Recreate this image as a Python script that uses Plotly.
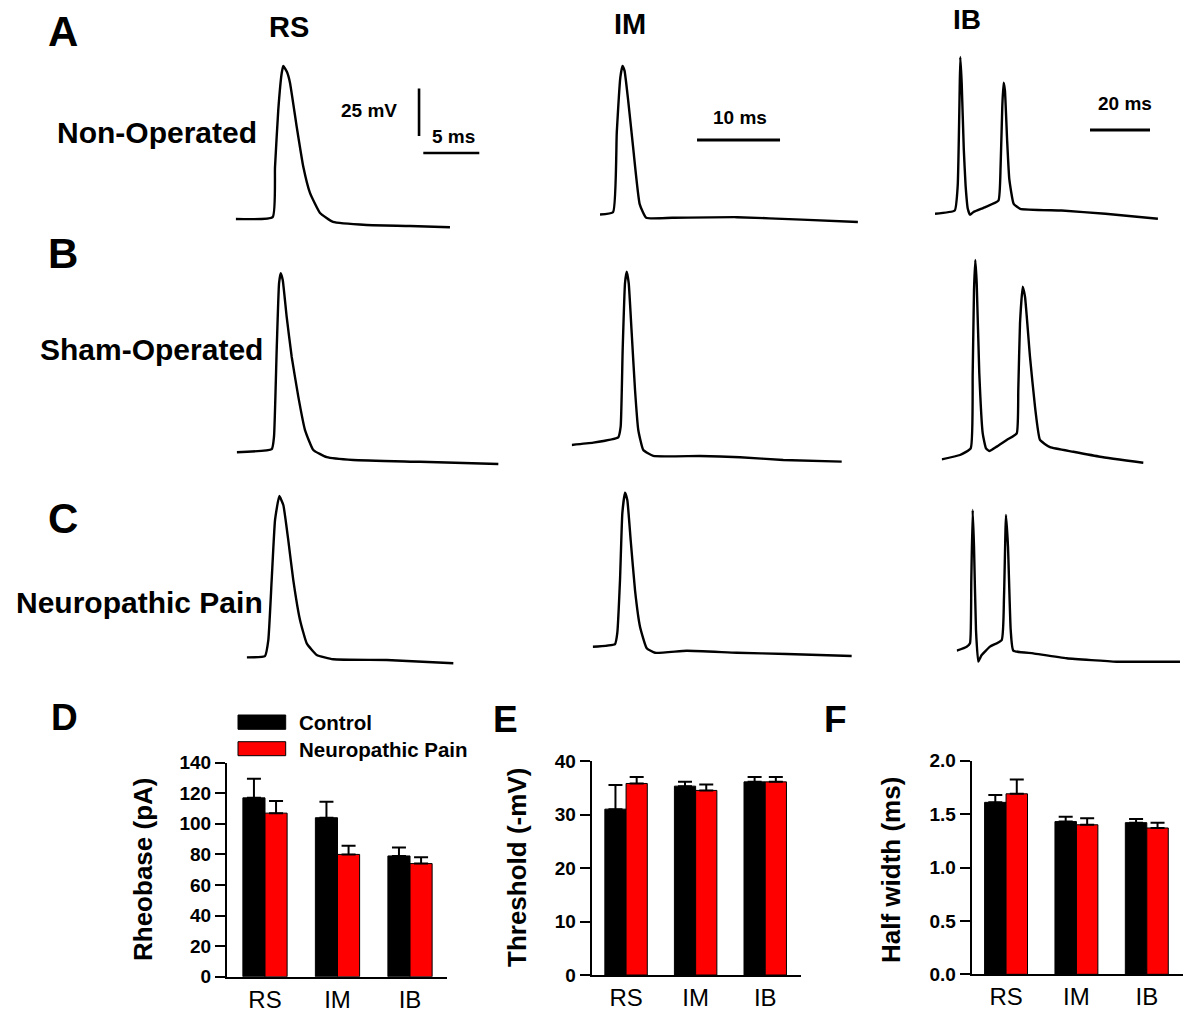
import plotly.graph_objects as go

W, H = 1200, 1014
FONT = "Arial, 'Liberation Sans', Helvetica, sans-serif"
PAGE_OFFSET = 8  # default page margin around the plot div

# ---------------- Action potential traces (time in ms, membrane potential in mV) ----------------
a_rs_t = [0, 3.30, 3.51, 3.80, 4.11, 4.25, 4.58, 4.85, 5.45, 6.04, 6.63, 7.53, 8.69, 11.70, 15.56, 19.13]
a_rs_v = [-60.5, -59.5, -33.2, -3.2, 16.3, 20.0, 16.8, 11.1, -12.1, -33.2, -46.8, -57.4, -62.1, -63.7, -64.2, -64.9]

a_im_t = [0, 1.57, 2.02, 2.45, 2.71, 2.96, 3.39, 4.01, 4.78, 5.57, 8.69, 16.51, 24.30, 31.07]
a_im_v = [-60.8, -59.6, -17.7, 11.4, 17.4, 14.8, -0.6, -26.3, -55.3, -62.5, -62.5, -62.2, -63.5, -64.7]

a_ib_t = [0, 6.57, 7.57, 8.17, 8.43, 8.9, 9.6, 10.2, 10.93, 11.67, 12.83, 16.77, 21.13, 21.87, 22.43,
          22.87, 23.3, 24.03, 24.77, 26.23, 28.4, 42.23, 56.8, 74.3]
a_ib_v = [-60.4, -58.7, -45.6, -0.5, 22.1, 8.2, -26.5, -45.6, -57.8, -60.9, -59.5, -56.9, -53.5, -35.2, -3.9,
          8.6, 4.7, -21.3, -42.2, -55.2, -57.8, -58.7, -60.4, -63.0]

b_rs_t = [0, 3.13, 3.33, 3.57, 3.78, 3.93, 4.11, 4.46, 4.91, 5.5, 6.1, 6.84, 8.04, 10.41, 16.37, 23.36]
b_rs_v = [-61.2, -59.5, -53.0, -7.4, 27.7, 33.0, 29.5, 10.2, -10.9, -31.9, -49.5, -60.0, -63.8, -65.3, -66.2, -67.4]

b_im_t = [0, 2.6, 5.61, 5.9, 6.14, 6.42, 6.63, 6.87, 7.23, 7.63, 8.02, 8.63, 9.83, 15.46, 20.28, 25.49, 32.53]
b_im_v = [-62.6, -61.4, -58.6, -53.0, -12.6, 22.5, 28.6, 22.5, -3.8, -33.7, -54.7, -65.3, -68.4, -68.4, -69.1, -70.5, -71.4]

b_ib_t = [0, 6.1, 9.67, 10.33, 10.77, 11.2, 11.67, 12.53, 13.67, 14.77, 15.87, 18.33, 21.67, 25.0, 25.53,
          26.1, 27.0, 27.77, 29.43, 31.1, 32.77, 36.1, 43.87, 52.77, 67.2]
b_ib_v = [-62.3, -60.0, -56.5, -17.0, 26.8, 42.6, 30.4, -17.0, -48.6, -56.5, -57.9, -55.6, -52.1, -48.6, -25.8,
          9.3, 28.6, 23.3, -8.3, -34.6, -52.1, -55.9, -58.3, -60.9, -64.1]

c_rs_t = [0, 1.63, 1.93, 2.23, 2.53, 2.91, 3.27, 3.71, 4.16, 4.76, 5.36, 6.25, 7.73, 12.5, 18.45]
c_rs_v = [-60.2, -59.5, -51.1, -19.5, 12.1, 24.7, 20.0, 1.6, -19.5, -40.5, -52.8, -58.9, -61.2, -61.6, -63.3]

c_im_t = [0, 2.69, 2.96, 3.29, 3.57, 3.89, 4.17, 4.58, 5.1, 5.7, 6.51, 7.51, 11.33, 17.35, 23.37, 31.2]
c_im_v = [-60.9, -59.5, -53.8, -25.8, 9.3, 20.2, 16.3, -5.0, -31.3, -50.4, -61.7, -64.1, -63.0, -64.1, -64.7, -65.8]

c_ib_t = [0, 3.33, 4.43, 4.87, 5.33, 5.77, 6.43, 7.2, 8.33, 11.1, 15.0, 15.77, 16.43, 17.1, 18.0, 18.87,
          25.53, 36.67, 53.33, 74.43]
c_ib_v = [-61.4, -59.3, -57.5, -24.2, 12.6, -6.7, -50.5, -67.2, -63.7, -59.3, -55.8, -33.0, 10.0, -6.7, -50.5, -61.4,
          -62.8, -65.4, -67.2, -67.2]

# scale bars
bar_mv = 25
bar_ms_rs = 5
bar_ms_im = 10
bar_ms_ib = 20

# ---------------- Summary data ----------------
categories = ["RS", "IM", "IB"]
series_names = ["Control", "Neuropathic Pain"]

rheo_ctrl = [117, 104, 79]
rheo_ctrl_err = [12.5, 10.5, 5.5]
rheo_np = [107, 80, 74]
rheo_np_err = [8, 5.7, 4.2]

thr_ctrl = [31.0, 35.3, 36.1]
thr_ctrl_err = [4.5, 0.8, 0.9]
thr_np = [35.8, 34.5, 36.1]
thr_np_err = [1.2, 1.1, 0.9]

hw_ctrl = [1.61, 1.43, 1.42]
hw_ctrl_err = [0.07, 0.045, 0.035]
hw_np = [1.69, 1.40, 1.37]
hw_np_err = [0.135, 0.06, 0.05]

y_ticks_rheo = [0, 20, 40, 60, 80, 100, 120, 140]
y_ticks_thr = [0, 10, 20, 30, 40]
y_ticks_hw = [0.0, 0.5, 1.0, 1.5, 2.0]
y_ticktext_hw = ["0.0", "0.5", "1.0", "1.5", "2.0"]

# ---------------- helpers ----------------
def px_x(x):
    return (x - PAGE_OFFSET) / W

def px_y(y):
    return 1 - (y - PAGE_OFFSET) / H

def akey(prefix, k):
    return prefix + ("" if k == 1 else str(k))

fig = go.Figure()
layout = dict(
    template="none",
    width=W, height=H, margin=dict(l=0, r=0, t=0, b=0, pad=0, autoexpand=False),
    paper_bgcolor="white", plot_bgcolor="rgba(0,0,0,0)",
    showlegend=False, bargap=0.39, bargroupgap=0,
    font=dict(family=FONT, color="black"),
)

PX_PER_MV = 1.9
# (t, v, left_px, baseline_py, px_per_ms, width_px)
trace_specs = [
    (a_rs_t, a_rs_v, 235.7, 218, 11.2, 250),
    (a_im_t, a_im_v, 600, 213, 8.3, 270),
    (a_ib_t, a_ib_v, 935, 213, 3.0, 235),
    (b_rs_t, b_rs_v, 236.7, 450, 11.2, 270),
    (b_im_t, b_im_v, 571.7, 440, 8.3, 280),
    (b_ib_t, b_ib_v, 941.7, 455, 3.0, 235),
    (c_rs_t, c_rs_v, 246.7, 657, 11.2, 250),
    (c_im_t, c_im_v, 592.7, 645, 8.3, 270),
    (c_ib_t, c_ib_v, 956.7, 648, 3.0, 235),
]

for i, (t, v, left, base, s, wpx) in enumerate(trace_specs):
    k = i + 1
    xa, ya = akey("x", k), akey("y", k)
    fig.add_trace(go.Scatter(x=t, y=v, mode="lines", xaxis=xa, yaxis=ya,
                             line=dict(color="black", width=2.4, shape="spline", smoothing=0.4),
                             hoverinfo="skip"))
    top, bot = max(base - 205, PAGE_OFFSET + 1), base + 35
    layout[akey("xaxis", k)] = dict(domain=[px_x(left), min(1.0, px_x(left + wpx))], range=[0, wpx / s],
                                   visible=False, anchor=ya, fixedrange=True, automargin=False)
    layout[akey("yaxis", k)] = dict(domain=[px_y(bot), px_y(top)],
                                   range=[-60 - (bot - base) / PX_PER_MV, -60 + (base - top) / PX_PER_MV],
                                   visible=False, anchor=xa, fixedrange=True, automargin=False)

# scale bars drawn in data units of the first-row axes
fig.add_trace(go.Scatter(x=[16.37, 16.37], y=[-16.8, -16.8 + bar_mv], mode="lines", xaxis="x", yaxis="y",
                         line=dict(color="black", width=2.6), hoverinfo="skip"))
fig.add_trace(go.Scatter(x=[16.75, 16.75 + bar_ms_rs], y=[-25.8, -25.8], mode="lines", xaxis="x", yaxis="y",
                         line=dict(color="black", width=2.6), hoverinfo="skip"))
fig.add_trace(go.Scatter(x=[11.69, 11.69 + bar_ms_im], y=[-21.6, -21.6], mode="lines", xaxis="x2", yaxis="y2",
                         line=dict(color="black", width=3), hoverinfo="skip"))
fig.add_trace(go.Scatter(x=[51.67, 51.67 + bar_ms_ib], y=[-16.3, -16.3], mode="lines", xaxis="x3", yaxis="y3",
                         line=dict(color="black", width=3), hoverinfo="skip"))

# ---------------- bar panels ----------------
COL_CTRL = "#000000"
COL_NP = "#ff0000"
bar_panels = [
    # ctrl, ctrl_err, np, np_err, x-left px, x-right px, y-top px, y-bottom px, xrange, yrange, ticks
    (rheo_ctrl, rheo_ctrl_err, rheo_np, rheo_np_err, 227, 447, 762.7, 976.7, [-0.524, 2.51], [0, 140],
     y_ticks_rheo, [str(v) for v in y_ticks_rheo]),
    (thr_ctrl, thr_ctrl_err, thr_np, thr_np_err, 591.7, 800.7, 761, 975, [-0.494, 2.51], [0, 40],
     y_ticks_thr, [str(v) for v in y_ticks_thr]),
    (hw_ctrl, hw_ctrl_err, hw_np, hw_np_err, 971.7, 1182.7, 760.7, 974.3, [-0.488, 2.51], [0, 2.0],
     y_ticks_hw, y_ticktext_hw),
]

for j, (c, ce, n, ne, xl, xr, yt, yb, xr_, yr_, tv, tt) in enumerate(bar_panels):
    k = 10 + j
    xa, ya = akey("x", k), akey("y", k)
    for vals, errs, col, name in [(c, ce, COL_CTRL, series_names[0]), (n, ne, COL_NP, series_names[1])]:
        fig.add_trace(go.Bar(x=categories, y=vals, name=name, xaxis=xa, yaxis=ya,
                             marker=dict(color=col, line=dict(color="#000000", width=1)),
                             error_y=dict(type="data", symmetric=False, array=errs, arrayminus=[0, 0, 0],
                                          color="black", thickness=2, width=7),
                             hoverinfo="skip"))
    layout[akey("xaxis", k)] = dict(domain=[px_x(xl), px_x(xr)], range=xr_, type="category",
                                   anchor=ya, showline=True, linecolor="black", linewidth=2,
                                   ticks="", showgrid=False, zeroline=False, automargin=False,
                                   tickfont=dict(family=FONT, size=24, color="black"), fixedrange=True)
    layout[akey("yaxis", k)] = dict(domain=[px_y(yb), px_y(yt)], range=yr_, anchor=xa,
                                   showline=True, linecolor="black", linewidth=2,
                                   ticks="outside", ticklen=10, tickwidth=2, tickcolor="black",
                                   tickvals=tv, ticktext=["<b>%s</b>" % s for s in tt],
                                   showgrid=False, zeroline=False, automargin=False,
                                   tickfont=dict(family=FONT, size=19, color="black"), fixedrange=True)

# ---------------- text ----------------
ann = []
def text(x, y, s, size, bold=True, angle=0):
    ann.append(dict(x=px_x(x), y=px_y(y), xref="paper", yref="paper", text=("<b>%s</b>" % s) if bold else s,
                    showarrow=False, xanchor="center", yanchor="middle", textangle=angle,
                    font=dict(family=FONT, size=size, color="black")))

for letter, x, y in [("A", 63, 31), ("B", 63, 253), ("C", 63, 518)]:
    text(x, y, letter, 42)
for letter, x, y in [("D", 64, 717), ("E", 505, 719), ("F", 836, 719)]:
    text(x, y, letter, 37)

text(289, 27, "RS", 29)
text(630, 24, "IM", 29)
text(967, 20, "IB", 28)
text(157, 133, "Non-Operated", 30)
text(151, 349, "Sham-Operated", 30)
text(139, 602, "Neuropathic Pain", 30)
text(369, 111, "25 mV", 19)
text(453, 137, "5 ms", 19)
text(740, 117, "10 ms", 19)
text(1125, 103, "20 ms", 19)

text(143, 870, "Rheobase (pA)", 26, angle=-90)
text(517, 868, "Threshold (-mV)", 26, angle=-90)
text(891, 870, "Half width (ms)", 26, angle=-90)

# legend for panel D
shapes = [
    dict(type="rect", xref="paper", yref="paper", x0=px_x(238), x1=px_x(285.7), y0=px_y(729.3), y1=px_y(715),
         fillcolor=COL_CTRL, line=dict(color="black", width=1)),
    dict(type="rect", xref="paper", yref="paper", x0=px_x(238), x1=px_x(285.7), y0=px_y(755.7), y1=px_y(741.7),
         fillcolor=COL_NP, line=dict(color="black", width=1)),
]
for s, y in [(series_names[0], 722), (series_names[1], 749)]:
    ann.append(dict(x=px_x(297), y=px_y(y), xref="paper", yref="paper", text="<b>%s</b>" % s,
                    showarrow=False, xanchor="left", yanchor="middle",
                    font=dict(family=FONT, size=20.5, color="black")))

layout["annotations"] = ann
layout["shapes"] = shapes
fig.update_layout(**layout)
fig.write_html("out.html")
